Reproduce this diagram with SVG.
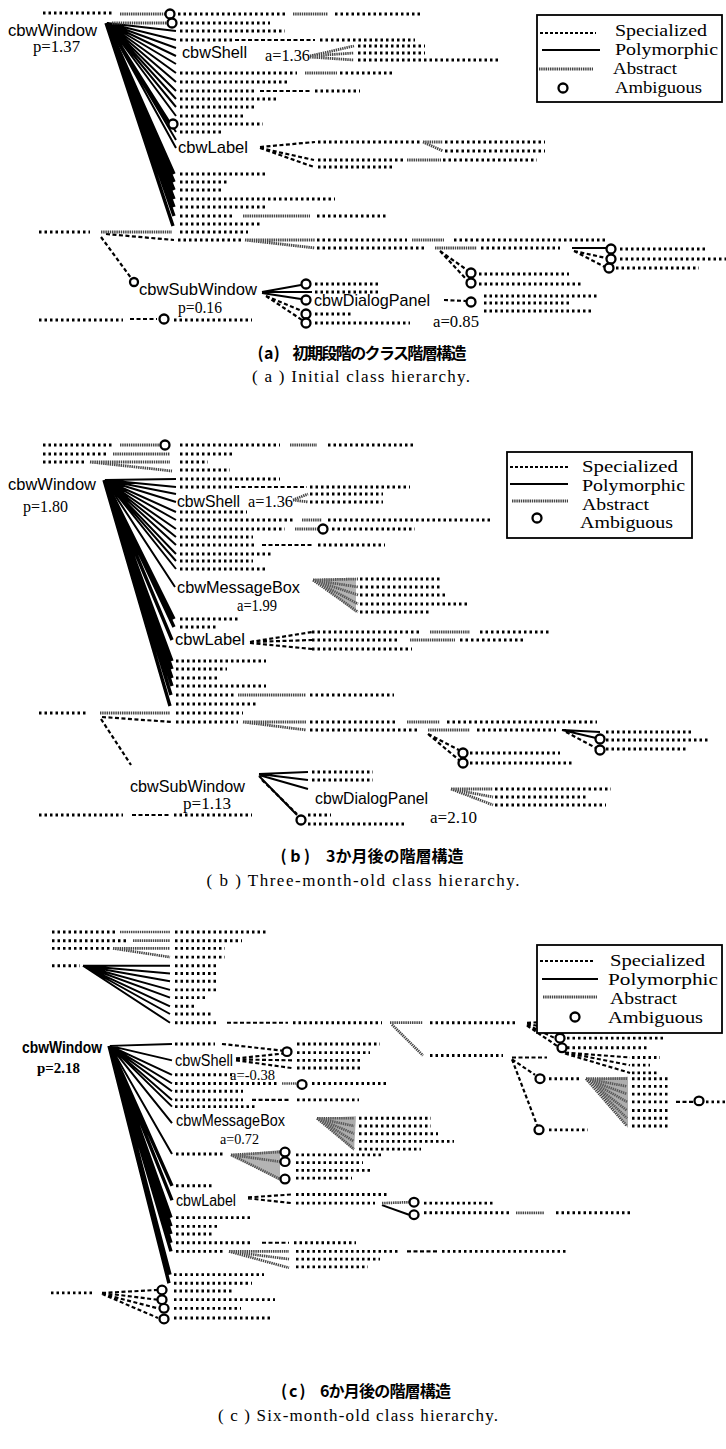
<svg xmlns="http://www.w3.org/2000/svg" width="726" height="1449" viewBox="0 0 726 1449">
<style>
.d{fill:none;stroke:#000;stroke-width:3;stroke-dasharray:2.5 3}
.s{fill:none;stroke:#000;stroke-width:2.2;stroke-dasharray:4 2.5}
.p{fill:none;stroke:#000;stroke-width:2}
.pw{fill:none;stroke:#000;stroke-width:3.4}
.a{fill:none;stroke:#444;stroke-width:2.8;stroke-dasharray:1.4 0.8}
.w{fill:#6a6a6a;stroke:none}
.c{fill:#fff;stroke:#000;stroke-width:2.3}
.n{font-family:"Liberation Sans",Arial,sans-serif;font-size:17px;fill:#000}
.nb{font-family:"Liberation Sans",Arial,sans-serif;font-size:17px;font-weight:bold;fill:#000}
.v{font-family:"Liberation Serif","Times New Roman",serif;font-size:16px;fill:#000}
.vb{font-family:"Liberation Serif","Times New Roman",serif;font-size:16px;font-weight:bold;fill:#000}
.lg{font-family:"Liberation Serif","Times New Roman",serif;font-size:17px;fill:#000}
.box{fill:#fff;stroke:#000;stroke-width:1.8}
.cj{font-family:"Noto Sans CJK JP",sans-serif;font-size:16px;font-weight:bold;fill:#000}
.ce{font-family:"Liberation Serif","Times New Roman",serif;font-size:17px;fill:#000}
</style>

<!-- ================= PANEL (a) ================= -->
<g id="panel-a">
<g id="connectors-a">
<path class="p" d="M107 23L176 31M107 23L176 40M107 23L176 48M107 23L176 56M107 23L176 64M107 23L176 73M107 23L176 82M107 23L176 91M107 23L176 99M107 23L176 107M107 23L176 116M107 23L169 124M107 23L176 132M107 23L176 140M107 23L176 148"/>
<path class="pw" d="M107 23L174 174M107 23L174 182M107 23L174 190M107 23L174 199M107 23L174 207M107 23L174 216M106 23L173 226"/>
<path class="p" d="M572 248H606M262 292L301 285M262 292L312 292M262 293L301 299"/>
<path class="s" d="M235 40H315M260 91H310M260 147L315 142M260 148L314 160M260 148L314 167M106 234L174 240M130 319H157M101 237L131 278M266 296L302 311M266 296L302 320M440 251L467 270M440 251L467 280M574 251L606 258M574 251L605 267M444 300L466 301"/>
<path class="a" d="M120 14H165M112 23H167M293 14H328M305 73H337M310 56L354 46M310 56L354 53M310 57L354 60M423 142H443M423 142L443 151M407 160H441M243 216H310M101 232H172M245 240H315M245 240L315 248M412 240H444M435 248H477"/>
</g>
<g id="rows-a">
<path class="d" d="M43 13H112M178 14H285M335 14H420M180 23H270M180 31H285M180 40H232M320 40H415M358 46H425M358 53H425M358 60H500M180 73H297M340 73H393M180 82H288M180 91H257M315 91H360M180 99H277M180 107H257M180 116H243M180 124H263M180 132H222M318 142H420M445 142H545M445 151H545M318 160H403M443 160H537M318 167H392M180 174H267M180 182H228M180 190H222M180 199H335M180 207H268M180 216H235M317 216H387M180 224H262M39 232H90M180 232H248M178 240H241M317 240H407M454 240H606M317 248H424M481 248H560M620 249H708M620 259H726M616 268H699M479 274H569M479 284H581M315 284H380M315 292H380M315 314H352M315 323H410M484 296H597M484 303H569M484 311H593M39 320H123M174 320H252"/>
</g>
<g id="ambiguous-a">
<circle class="c" cx="170" cy="14" r="4.5"/><circle class="c" cx="172" cy="23" r="4.5"/><circle class="c" cx="173" cy="124" r="4.5"/>
<circle class="c" cx="611" cy="249" r="4.5"/><circle class="c" cx="611" cy="259" r="4.5"/><circle class="c" cx="609" cy="268" r="4.5"/>
<circle class="c" cx="471" cy="273" r="4.5"/><circle class="c" cx="471" cy="283" r="4.5"/><circle class="c" cx="134" cy="282" r="4"/>
<circle class="c" cx="306" cy="284" r="4.5"/><circle class="c" cx="306" cy="300" r="4.5"/><circle class="c" cx="306" cy="314" r="4.5"/><circle class="c" cx="306" cy="323" r="4.5"/>
<circle class="c" cx="471" cy="302" r="4.5"/><circle class="c" cx="164" cy="319" r="4.5"/>
</g>
<g id="node-a-cbwWindow"><text class="n" x="8" y="36" textLength="89" lengthAdjust="spacingAndGlyphs">cbwWindow</text><text class="v" x="33" y="52" textLength="47" lengthAdjust="spacingAndGlyphs">p=1.37</text></g>
<g id="node-a-cbwShell"><text class="n" x="182" y="58" textLength="65" lengthAdjust="spacingAndGlyphs">cbwShell</text><text class="v" x="265" y="61" textLength="45" lengthAdjust="spacingAndGlyphs">a=1.36</text></g>
<g id="node-a-cbwLabel"><text class="n" x="178" y="153" textLength="70" lengthAdjust="spacingAndGlyphs">cbwLabel</text></g>
<g id="node-a-cbwSubWindow"><text class="n" x="139" y="295" textLength="118" lengthAdjust="spacingAndGlyphs">cbwSubWindow</text><text class="v" x="178" y="313" textLength="44" lengthAdjust="spacingAndGlyphs">p=0.16</text></g>
<g id="node-a-cbwDialogPanel"><text class="n" x="314" y="306" textLength="116" lengthAdjust="spacingAndGlyphs">cbwDialogPanel</text><text class="v" x="433" y="327" textLength="46" lengthAdjust="spacingAndGlyphs">a=0.85</text></g>
<g id="legend-a">
<rect class="box" x="537" y="15" width="185" height="87"/>
<path class="s" d="M540 33H596" style="stroke-dasharray:3 2"/>
<path class="p" d="M542 50H600"/>
<path class="a" d="M539 69H593"/>
<circle class="c" cx="563" cy="88" r="4.5"/>
<text class="lg" x="615" y="36" textLength="92" lengthAdjust="spacingAndGlyphs">Specialized</text>
<text class="lg" x="615" y="55" textLength="103" lengthAdjust="spacingAndGlyphs">Polymorphic</text>
<text class="lg" x="613" y="74" textLength="64" lengthAdjust="spacingAndGlyphs">Abstract</text>
<text class="lg" x="615" y="93" textLength="87" lengthAdjust="spacingAndGlyphs">Ambiguous</text>
</g>
<g id="caption-a">
<text class="cj" x="362" y="359" text-anchor="middle" textLength="209" lengthAdjust="spacing">( a )　初期段階のクラス階層構造</text>
<text class="ce" x="361" y="382" text-anchor="middle" textLength="218" lengthAdjust="spacing">( a )  Initial class hierarchy.</text>
</g>
</g>

<!-- ================= PANEL (b) ================= -->
<g id="panel-b">
<g id="graph-b" transform="translate(0,-28)">
<g id="connectors-b">
<path class="p" d="M105 508L176 507M105 508L176 515M105 508L176 522M105 508L176 530M105 508L176 540M105 508L176 548M105 508L176 557M105 508L176 565M105 508L176 573M105 508L176 582M105 508L176 589M105 508L176 597M105 508L175 615"/>
<path class="pw" d="M105 508L174 647M105 508L174 655M105 508L172 668M105 508L172 689M105 508L172 697M105 508L172 706M105 508L172 714M105 508L171 723M104 508L170 734"/>
<path class="p" d="M562 758L600 760M562 758L596 766M259 802L308 800M259 802L308 808M259 803L308 817M259 804L297 843"/>
<path class="s" d="M235 515H307M262 573H312M250 670L312 660M250 670L312 668M250 671L312 677M102 745L172 750M101 747L131 793M428 762L459 778M428 762L459 788M132 843H169M262 808L297 842M566 760L596 776"/>
<path class="a" d="M120 473H160M113 482H170M90 490H170M90 490L172 499M290 473H317M293 528L308 522M293 528L308 530M302 548H322M295 557H318M313 608L358 607M313 608L358 615M313 608L358 623M313 608L358 632M313 608L358 640M430 660H470M410 668H455M238 723H306M100 741H170M243 750H306M243 750L306 758M407 750H440M428 758H470M451 817L493 817M451 817L493 825M451 817L493 833"/>
<path class="w" d="M313 607L356 606L356 641Z" opacity="0.5"/>
</g>
<g id="rows-b">
<path class="d" d="M43 473H112M180 473H280M328 473H415M43 482H107M180 482H233M43 490H85M180 490H208M180 498H230M180 507H280M180 515H233M310 515H410M310 522H383M310 530H383M180 540H247M180 548H293M328 548H490M180 557H285M332 557H415M180 565H253M180 573H257M318 573H385M180 582H273M180 589H253M180 597H267M360 607H440M360 615H440M360 623H448M360 632H468M360 640H430M180 647H240M180 655H218M312 660H420M480 660H550M312 668H400M460 668H525M312 677H412M176 689H266M176 697H227M176 706H218M176 714H266M176 723H234M310 723H394M176 732H257M39 741H88M176 741H243M176 750H238M310 750H398M447 750H597M310 758H419M477 758H556M606 760H694M606 768H708M606 777H688M470 781H560M470 791H574M312 800H373M312 808H373M308 843H331M308 852H405M495 817H611M495 825H588M495 833H606M39 843H123M174 843H252"/>
</g>
<g id="ambiguous-b">
<circle class="c" cx="165" cy="473" r="4.5"/><circle class="c" cx="323" cy="557" r="4.5"/>
<circle class="c" cx="600" cy="767" r="4.5"/><circle class="c" cx="600" cy="778" r="4.5"/>
<circle class="c" cx="463" cy="781" r="4.5"/><circle class="c" cx="463" cy="791" r="4.5"/>
<circle class="c" cx="301" cy="848" r="4.5"/>
</g>
<g id="node-b-cbwWindow"><text class="n" x="8" y="518" textLength="88" lengthAdjust="spacingAndGlyphs">cbwWindow</text><text class="v" x="23" y="540" textLength="45" lengthAdjust="spacingAndGlyphs">p=1.80</text></g>
<g id="node-b-cbwShell"><text class="n" x="177" y="535" textLength="63" lengthAdjust="spacingAndGlyphs">cbwShell</text><text class="v" x="248" y="535" textLength="45" lengthAdjust="spacingAndGlyphs">a=1.36</text></g>
<g id="node-b-cbwMessageBox"><text class="n" x="177" y="621" textLength="123" lengthAdjust="spacingAndGlyphs">cbwMessageBox</text><text class="v" x="237" y="639" textLength="40" lengthAdjust="spacingAndGlyphs">a=1.99</text></g>
<g id="node-b-cbwLabel"><text class="n" x="175" y="673" textLength="70" lengthAdjust="spacingAndGlyphs">cbwLabel</text></g>
<g id="node-b-cbwSubWindow"><text class="n" x="130" y="820" textLength="115" lengthAdjust="spacingAndGlyphs">cbwSubWindow</text><text class="v" x="183" y="837" textLength="48" lengthAdjust="spacingAndGlyphs">p=1.13</text></g>
<g id="node-b-cbwDialogPanel"><text class="n" x="315" y="832" textLength="113" lengthAdjust="spacingAndGlyphs">cbwDialogPanel</text><text class="v" x="430" y="851" textLength="47" lengthAdjust="spacingAndGlyphs">a=2.10</text></g>
</g>
<g id="legend-b">
<rect class="box" x="507" y="452" width="185" height="86"/>
<path class="s" d="M510 467H568" style="stroke-dasharray:3 2"/>
<path class="p" d="M510 484H568"/>
<path class="a" d="M512 501H568"/>
<circle class="c" cx="537" cy="518" r="4.5"/>
<text class="lg" x="582" y="472" textLength="96" lengthAdjust="spacingAndGlyphs">Specialized</text>
<text class="lg" x="582" y="491" textLength="103" lengthAdjust="spacingAndGlyphs">Polymorphic</text>
<text class="lg" x="582" y="510" textLength="67" lengthAdjust="spacingAndGlyphs">Abstract</text>
<text class="lg" x="580" y="528" textLength="93" lengthAdjust="spacingAndGlyphs">Ambiguous</text>
</g>
<g id="caption-b">
<text class="cj" x="372" y="862" text-anchor="middle" textLength="183" lengthAdjust="spacing">( b )　3か月後の階層構造</text>
<text class="ce" x="363" y="886" text-anchor="middle" textLength="313" lengthAdjust="spacing">( b )  Three-month-old class hierarchy.</text>
</g>
</g>

<!-- ================= PANEL (c) ================= -->
<g id="panel-c">
<g id="graph-c" transform="matrix(1 0 0 0.965 0 -5.98)">
<g id="connectors-c">
<path class="p" d="M83 1007L170 1007M83 1007L170 1015M83 1007L170 1023M83 1007L170 1032M83 1007L170 1040M83 1007L170 1049M83 1007L170 1057M83 1007L170 1066"/>
<path class="p" d="M110 1090L172 1088M110 1090L172 1105M110 1090L172 1120M110 1090L172 1129M110 1090L172 1137M110 1090L172 1146M110 1090L172 1153M110 1090L172 1170M110 1090L172 1202"/>
<path class="pw" d="M110 1090L172 1235M110 1090L172 1250M110 1090L171 1268M110 1090L171 1277M110 1090L171 1285M110 1090L171 1294M110 1090L171 1303M110 1090L170 1327M109 1090L169 1336"/>
<path class="p" d="M382 1255L409 1265"/>
<path class="s" d="M227 1066H288M222 1088L283 1095M236 1103L292 1097M236 1104L292 1105M236 1105L292 1113M252 1146H290M527 1066L553 1065M527 1067L555 1073M527 1068L555 1082M527 1069L557 1090M512 1102H547M565 1097L630 1102M565 1097L630 1110M565 1098L630 1118M512 1104L535 1120M512 1104L537 1172M676 1148H694M248 1247L292 1244M248 1248L292 1253M262 1294H289M407 1303H438M102 1346L157 1343M102 1346L157 1353M102 1347L158 1362M102 1347L158 1372"/>
<path class="a" d="M120 972H170M133 981H170M113 989H170M113 989L170 998M390 1066H423M392 1068L423 1100M282 1129H296M317 1165L354 1165M317 1165L354 1173M317 1165L354 1181M317 1165L354 1189M317 1165L354 1197M231 1203L280 1200M231 1203L280 1210M231 1203L280 1228M382 1253L409 1252M516 1263H544M229 1303H289M229 1303L289 1311M229 1303L289 1320M586 1124L627 1124M586 1124L627 1132M586 1124L627 1140M586 1124L627 1148M586 1124L627 1157M586 1124L627 1165M586 1124L627 1173"/>
<path class="w" d="M317 1165L356 1163L354 1199Z" opacity="0.55"/>
<path class="w" d="M231 1203L280 1198L280 1230Z" opacity="0.5"/>
<path class="w" d="M590 1124L628 1122L628 1175Z" opacity="0.55"/>
</g>
<g id="rows-c">
<path class="d" d="M52 972H115M175 972H267M52 981H127M175 981H242M52 989H110M175 989H225M175 998H225M52 1007H80M175 1007H218M175 1015H218M175 1023H218M175 1032H218M175 1040H207M175 1049H195M175 1057H213M175 1066H218M293 1066H382M430 1066H517M567 1065H657M567 1073H657M567 1082H663M567 1092H647M175 1088H215M297 1088H380M297 1097H370M297 1105H360M297 1113H360M430 1100H503M632 1102H660M632 1110H650M632 1118H657M549 1124H581M632 1124H669M632 1132H669M632 1140H669M632 1148H669M706 1148H726M632 1157H669M632 1165H669M632 1173H669M549 1177H588M175 1120H232M175 1129H277M312 1129H389M175 1137H243M175 1146H243M297 1146H359M175 1153H255M359 1165H431M359 1173H431M359 1181H438M359 1189H454M359 1197H421M176 1202H225M296 1203H382M296 1211H363M296 1219H370M296 1227H352M176 1235H213M296 1244H387M296 1253H375M424 1253H495M424 1263H509M556 1263H630M176 1268H252M176 1277H218M176 1285H213M176 1294H252M294 1294H356M176 1303H225M296 1303H398M442 1303H567M296 1311H380M296 1319H368M174 1327H264M174 1336H252M51 1346H95M174 1344H234M174 1353H275M174 1362H241M174 1372H271"/>
</g>
<g id="ambiguous-c">
<circle class="c" cx="287" cy="1096" r="4.5"/><circle class="c" cx="302" cy="1130" r="4.5"/>
<circle class="c" cx="558" cy="1065" r="4.5"/><circle class="c" cx="560" cy="1073" r="4.5"/><circle class="c" cx="560" cy="1082" r="4.5"/><circle class="c" cx="562" cy="1092" r="4.5"/>
<circle class="c" cx="540" cy="1124" r="4.5"/><circle class="c" cx="539" cy="1177" r="4.5"/><circle class="c" cx="699" cy="1147" r="4.5"/>
<circle class="c" cx="285" cy="1200" r="4.5"/><circle class="c" cx="285" cy="1210" r="4.5"/><circle class="c" cx="285" cy="1228" r="4.5"/>
<circle class="c" cx="414" cy="1252" r="4.5"/><circle class="c" cx="414" cy="1265" r="4.5"/>
<circle class="c" cx="162" cy="1343" r="4.5"/><circle class="c" cx="162" cy="1353" r="4.5"/><circle class="c" cx="164" cy="1362" r="4.5"/><circle class="c" cx="164" cy="1373" r="4.5"/>
</g>
<g id="node-c-cbwWindow"><text class="nb" x="22" y="1097" textLength="80" lengthAdjust="spacingAndGlyphs">cbwWindow</text><text class="vb" x="37" y="1118" textLength="43" lengthAdjust="spacingAndGlyphs">p=2.18</text></g>
<g id="node-c-cbwShell"><text class="n" x="175" y="1111" textLength="58" lengthAdjust="spacingAndGlyphs">cbwShell</text><text class="v" x="230" y="1125" textLength="45" lengthAdjust="spacingAndGlyphs">a=-0.38</text></g>
<g id="node-c-cbwMessageBox"><text class="n" x="176" y="1173" textLength="109" lengthAdjust="spacingAndGlyphs">cbwMessageBox</text><text class="v" x="220" y="1192" textLength="39" lengthAdjust="spacingAndGlyphs">a=0.72</text></g>
<g id="node-c-cbwLabel"><text class="n" x="176" y="1256" textLength="60" lengthAdjust="spacingAndGlyphs">cbwLabel</text></g>
</g>
<g id="legend-c">
<rect class="box" x="537" y="945" width="185" height="88"/>
<path class="s" d="M540 961H593" style="stroke-dasharray:3 2"/>
<path class="p" d="M542 979H598"/>
<path class="a" d="M543 997H597"/>
<circle class="c" cx="575" cy="1017" r="4.5"/>
<text class="lg" x="610" y="966" textLength="95" lengthAdjust="spacingAndGlyphs">Specialized</text>
<text class="lg" x="608" y="985" textLength="110" lengthAdjust="spacingAndGlyphs">Polymorphic</text>
<text class="lg" x="610" y="1004" textLength="67" lengthAdjust="spacingAndGlyphs">Abstract</text>
<text class="lg" x="608" y="1023" textLength="95" lengthAdjust="spacingAndGlyphs">Ambiguous</text>
</g>
<g id="caption-c">
<text class="cj" x="366" y="1397" text-anchor="middle" textLength="170" lengthAdjust="spacing">( c )　6か月後の階層構造</text>
<text class="ce" x="358" y="1421" text-anchor="middle" textLength="280" lengthAdjust="spacing">( c )  Six-month-old class hierarchy.</text>
</g>
</g>
</svg>
